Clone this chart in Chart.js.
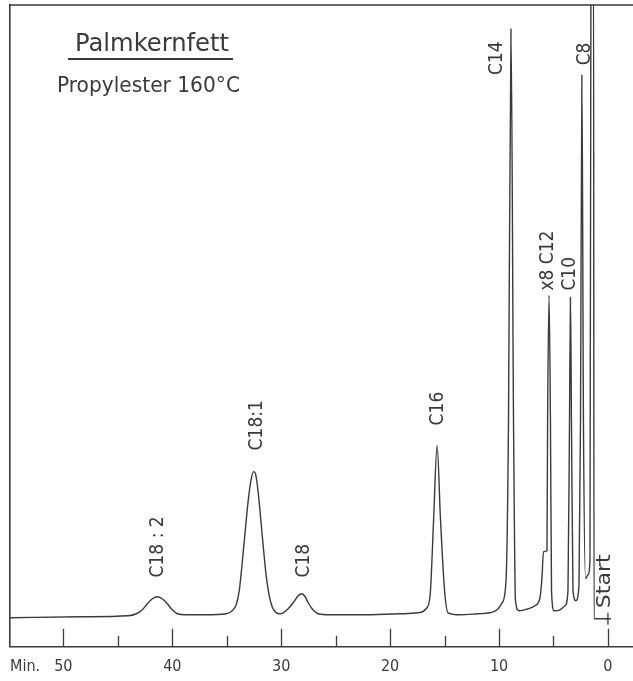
<!DOCTYPE html>
<html>
<head>
<meta charset="utf-8">
<title>Palmkernfett</title>
<script src="https://cdn.jsdelivr.net/npm/chart.js@4.4.1/dist/chart.umd.min.js"></script>
<style>
  html, body { margin: 0; padding: 0; background: #ffffff; }
  #wrap { width: 633px; height: 681px; }
</style>
</head>
<body>
<div id="wrap"><canvas id="chromChart" width="633" height="681"></canvas></div>
<script>
// Gas chromatogram of palm kernel fat (propyl esters, 160 °C)
// retention time in minutes, signal in chart units (0 = axis line, 100 = top of frame)
const retentionTimes = [
    0.00, 1.28, 1.32, 1.56, 1.65, 1.83, 2.06, 2.25, 2.39, 2.52,
    2.66, 2.94, 3.21, 3.35, 3.44, 3.53, 3.67, 3.94, 4.40, 4.95,
    5.18, 5.28, 5.41, 5.54, 5.60, 5.92, 6.06, 6.24, 6.70, 7.34,
    8.17, 8.49, 8.67, 8.90, 9.13, 9.36, 9.72, 10.18, 10.83, 11.93,
    13.58, 14.68, 15.00, 15.37, 15.69, 16.01, 16.33, 16.70, 17.43, 19.08,
    22.75, 25.50, 26.61, 27.16, 27.52, 27.80, 28.12, 28.44, 28.90, 29.36,
    29.82, 30.18, 30.55, 30.83, 31.10, 31.38, 31.74, 32.11, 32.34, 32.52,
    32.75, 33.03, 33.30, 33.58, 33.85, 34.13, 34.50, 35.05, 36.97, 38.81,
    39.54, 40.00, 40.46, 40.92, 41.38, 41.83, 42.29, 42.75, 43.30, 44.04,
    48.44, 54.86
];
const signal = [
    4.37, 4.37, 106, 106, 13.42, 11.23, 10.61, 35.26, 89.08, 35.26,
    9.52, 7.18, 8.74, 35.26, 54.45, 35.26, 8.74, 6.40, 5.77, 5.62,
    8.74, 35.26, 54.76, 35.26, 14.98, 14.82, 10.76, 7.64, 6.40, 5.93,
    5.62, 7.18, 35.26, 96.26, 35.26, 10.30, 6.86, 5.77, 5.30, 5.15,
    4.99, 5.30, 8.74, 19.66, 31.36, 19.66, 7.96, 5.93, 5.30, 5.15,
    4.99, 4.99, 5.15, 5.93, 6.86, 7.80, 8.27, 7.96, 6.86, 5.93,
    5.30, 5.15, 5.46, 6.24, 7.96, 11.08, 17.32, 24.02, 26.83, 27.30,
    26.21, 22.78, 18.10, 13.10, 8.74, 6.55, 5.62, 5.15, 4.99, 4.99,
    5.15, 5.77, 6.71, 7.49, 7.80, 7.49, 6.71, 5.77, 5.15, 4.84,
    4.68, 4.52
];

// peak labels: name, retention time of the label, signal where the label text begins
const peakNames = ['C8', 'C10', 'x8 C12', 'C14', 'C16', 'C18', 'C18:1', 'C18 : 2'];
const peakLabelTimes = [2.11, 3.49, 5.50, 10.18, 15.60, 27.89, 32.20, 41.28];
const peakLabelBases = [90.6, 55.5, 55.5, 89.1, 34.5, 10.8, 30.6, 10.8];

const majorTicks = [0, 10, 20, 30, 40, 50];
const minorTicks = [5, 15, 25, 35, 45];

const inkColor = '#3a3a3a';
const fontFamily = "'DejaVu Sans Condensed', 'Liberation Sans Narrow', 'DejaVu Sans', sans-serif";

// draw text squeezed to a given width
function fitText(ctx, text, x, y, size, width) {
    ctx.font = size + 'px ' + fontFamily;
    const w = ctx.measureText(text).width;
    ctx.save();
    ctx.translate(x, y);
    if (width) ctx.scale(width / w, 1);
    ctx.fillText(text, 0, 0);
    ctx.restore();
}

const overlayPlugin = {
    id: 'overlay',
    afterDatasetsDraw(chart) {
        const ctx = chart.ctx;
        const area = chart.chartArea;
        const xs = chart.scales.x;
        const ys = chart.scales.y;
        ctx.save();
        ctx.strokeStyle = inkColor;
        ctx.fillStyle = inkColor;

        // top of frame
        ctx.lineWidth = 1.6;
        ctx.beginPath();
        ctx.moveTo(area.left, area.top);
        ctx.lineTo(area.right, area.top);
        ctx.stroke();

        // tick marks pointing up into the plot
        ctx.lineWidth = 1.3;
        majorTicks.concat(minorTicks).forEach(v => {
            const px = Math.round(xs.getPixelForValue(v)) + 0.5;
            const len = majorTicks.includes(v) ? 18 : 11;
            ctx.beginPath();
            ctx.moveTo(px, area.bottom);
            ctx.lineTo(px, area.bottom - len);
            ctx.stroke();
        });

        // axis unit
        ctx.textAlign = 'left';
        ctx.textBaseline = 'middle';
        fitText(ctx, 'Min.', area.left, area.bottom + 20, 16);

        // title block
        ctx.textBaseline = 'alphabetic';
        fitText(ctx, 'Palmkernfett', area.left + 65, 51, 25, 154);
        ctx.lineWidth = 2;
        ctx.beginPath();
        ctx.moveTo(area.left + 58, 59);
        ctx.lineTo(area.left + 223, 59);
        ctx.stroke();
        fitText(ctx, 'Propylester 160°C', area.left + 47, 92, 21, 183);

        // peak labels, rotated
        ctx.textAlign = 'left';
        ctx.textBaseline = 'middle';
        peakNames.forEach((name, i) => {
            const px = xs.getPixelForValue(peakLabelTimes[i]);
            const py = ys.getPixelForValue(peakLabelBases[i]);
            ctx.save();
            ctx.translate(px, py);
            ctx.rotate(-Math.PI / 2);
            ctx.font = '19px ' + fontFamily;
            ctx.fillText(name, 0, 0);
            ctx.restore();
        });

        // start marker
        const sx = xs.getPixelForValue(0);
        const sy = ys.getPixelForValue(4.37);
        ctx.lineWidth = 1.3;
        ctx.beginPath();
        ctx.moveTo(sx + 3, sy);
        ctx.lineTo(sx - 2, sy);
        ctx.moveTo(sx, sy - 6);
        ctx.lineTo(sx, sy + 6);
        ctx.stroke();
        ctx.save();
        ctx.translate(sx - 3, ys.getPixelForValue(6.0));
        ctx.rotate(-Math.PI / 2);
        fitText(ctx, 'Start', 0, 0, 19, 54);
        ctx.restore();

        ctx.restore();
    }
};

const chromCtx = document.getElementById('chromChart').getContext('2d');
const chromChart = new Chart(chromCtx, {
    type: 'line',
    data: {
        datasets: [{
            data: retentionTimes.map((t, i) => ({ x: t, y: signal[i] })),
            borderColor: inkColor,
            borderWidth: 1.4,
            pointRadius: 0,
            fill: false,
            cubicInterpolationMode: 'monotone'
        }]
    },
    options: {
        responsive: false,
        animation: false,
        layout: { padding: { left: 10, top: 5, right: 0, bottom: -5 } },
        plugins: {
            legend: { display: false },
            tooltip: { enabled: false },
            title: { display: false }
        },
        scales: {
            x: {
                type: 'linear',
                reverse: true,
                min: -2.3,
                max: 54.9,
                afterBuildTicks: scale => {
                    scale.ticks = majorTicks.map(v => ({ value: v }));
                },
                grid: { display: true, drawOnChartArea: false, drawTicks: false },
                border: { display: true, color: inkColor, width: 1.6 },
                ticks: {
                    padding: 10,
                    color: inkColor,
                    maxRotation: 0,
                    autoSkip: false,
                    font: { family: fontFamily, size: 16 }
                }
            },
            y: {
                min: 0,
                max: 100,
                ticks: { display: false },
                grid: { display: true, drawOnChartArea: false, drawTicks: false },
                border: { display: true, color: inkColor, width: 1.6 }
            }
        }
    },
    plugins: [overlayPlugin]
});
</script>
</body>
</html>
